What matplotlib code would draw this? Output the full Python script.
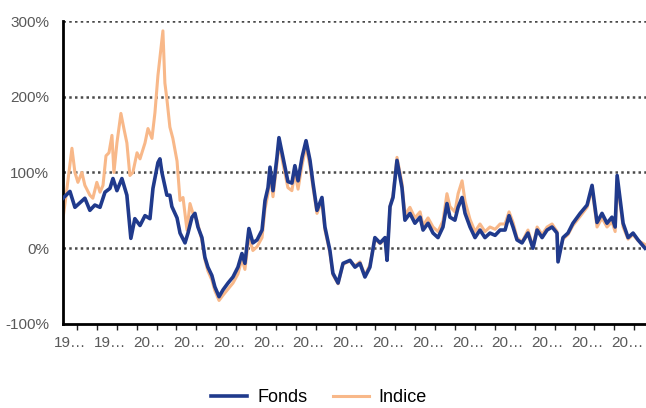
"""Fonds vs Indice cumulative performance chart."""
import matplotlib
matplotlib.use("Agg")
import matplotlib.pyplot as plt
from matplotlib.ticker import FixedLocator, PercentFormatter

plt.rcParams["font.family"] = ["Liberation Sans", "DejaVu Sans"]
plt.rcParams["axes.unicode_minus"] = False

# decimal years and cumulative performance (%)
fonds_years = [
    1995.30, 1995.65, 1995.90, 1996.15, 1996.40, 1996.65, 1996.90, 1997.16,
    1997.41, 1997.66, 1997.81, 1998.01, 1998.26, 1998.51, 1998.71, 1998.91,
    1999.17, 1999.42, 1999.67, 1999.82, 2000.07, 2000.17, 2000.27, 2000.52,
    2000.67, 2000.77, 2001.03, 2001.18, 2001.43, 2001.58, 2001.78, 2001.93,
    2002.08, 2002.28, 2002.43, 2002.58, 2002.78, 2002.93, 2003.14, 2003.34,
    2003.59, 2003.84, 2004.09, 2004.29, 2004.44, 2004.64, 2004.84, 2005.05,
    2005.30, 2005.45, 2005.60, 2005.70, 2005.85, 2006.05, 2006.15, 2006.35,
    2006.60, 2006.80, 2006.95, 2007.11, 2007.31, 2007.51, 2007.71, 2007.86,
    2008.06, 2008.31, 2008.46, 2008.71, 2008.86, 2009.12, 2009.37, 2009.72,
    2009.97, 2010.22, 2010.47, 2010.72, 2010.97, 2011.23, 2011.48, 2011.58,
    2011.73, 2011.88, 2012.08, 2012.33, 2012.48, 2012.73, 2012.98, 2013.24,
    2013.39, 2013.64, 2013.89, 2014.14, 2014.39, 2014.59, 2014.74, 2014.99,
    2015.15, 2015.35, 2015.50, 2015.75, 2016.00, 2016.25, 2016.50, 2016.75,
    2017.01, 2017.26, 2017.51, 2017.71, 2017.91, 2018.11, 2018.36, 2018.66,
    2018.91, 2019.12, 2019.37, 2019.62, 2019.87, 2020.12, 2020.17, 2020.42,
    2020.67, 2020.92, 2021.28, 2021.63, 2021.88, 2022.13, 2022.38, 2022.63,
    2022.88, 2023.04, 2023.14, 2023.44, 2023.69, 2023.94, 2024.19, 2024.54,
]
fonds = [
    66, 75, 54, 60, 66, 50, 57, 54,
    74, 79, 92, 76, 92, 70, 13, 39,
    30, 43, 39, 79, 113, 118, 100, 70,
    70, 55, 40, 20, 7, 20, 41, 46,
    28, 14, -12, -25, -36, -51, -64, -55,
    -46, -38, -25, -7, -20, 26, 7, 11,
    24, 63, 80, 107, 76, 120, 146, 120,
    88, 86, 109, 89, 120, 142, 116, 86,
    50, 67, 28, -3, -33, -46, -20, -16,
    -25, -20, -38, -25, 14, 7, 14, -16,
    55, 67, 116, 80, 37, 46, 33, 41,
    24, 33, 20, 14, 28, 59, 41, 37,
    54, 67, 46, 28, 14, 24, 14, 20,
    17, 24, 24, 43, 28, 11, 7, 20,
    0, 24, 14, 24, 28, 20, -18, 14,
    20, 33, 46, 57, 83, 34, 46, 33,
    41, 28, 96, 33, 14, 20, 11, 0,
]

indice_years = [
    1995.30, 1995.50, 1995.75, 1995.90, 1996.05, 1996.25, 1996.40, 1996.65,
    1996.80, 1997.00, 1997.16, 1997.31, 1997.46, 1997.61, 1997.76, 1997.86,
    1998.01, 1998.21, 1998.36, 1998.51, 1998.66, 1998.81, 1999.02, 1999.17,
    1999.42, 1999.57, 1999.77, 1999.92, 2000.07, 2000.22, 2000.32, 2000.42,
    2000.52, 2000.67, 2000.82, 2001.03, 2001.18, 2001.33, 2001.53, 2001.68,
    2001.83, 2002.03, 2002.28, 2002.43, 2002.58, 2002.78, 2002.93, 2003.14,
    2003.34, 2003.59, 2003.84, 2004.09, 2004.29, 2004.44, 2004.64, 2004.84,
    2005.05, 2005.30, 2005.45, 2005.60, 2005.70, 2005.85, 2006.05, 2006.15,
    2006.35, 2006.60, 2006.80, 2006.95, 2007.11, 2007.31, 2007.51, 2007.71,
    2007.86, 2008.06, 2008.31, 2008.46, 2008.71, 2008.86, 2009.12, 2009.37,
    2009.72, 2009.97, 2010.22, 2010.47, 2010.72, 2010.97, 2011.23, 2011.48,
    2011.58, 2011.73, 2011.88, 2012.08, 2012.33, 2012.48, 2012.73, 2012.98,
    2013.24, 2013.39, 2013.64, 2013.89, 2014.14, 2014.39, 2014.59, 2014.74,
    2014.99, 2015.15, 2015.35, 2015.50, 2015.75, 2016.00, 2016.25, 2016.50,
    2016.75, 2017.01, 2017.26, 2017.51, 2017.71, 2017.91, 2018.11, 2018.36,
    2018.66, 2018.91, 2019.12, 2019.37, 2019.62, 2019.87, 2020.12, 2020.17,
    2020.42, 2020.67, 2020.92, 2021.28, 2021.63, 2021.88, 2022.13, 2022.38,
    2022.63, 2022.88, 2023.04, 2023.14, 2023.44, 2023.69, 2023.94, 2024.19,
    2024.54,
]
indice = [
    39, 79, 132, 100, 87, 100, 83, 70,
    66, 87, 74, 83, 122, 126, 149, 100,
    139, 178, 158, 139, 96, 100, 126, 118,
    139, 158, 145, 179, 228, 263, 287, 218,
    197, 160, 145, 115, 63, 67, 24, 59,
    46, 37, 10, -15, -30, -42, -56, -69,
    -62, -54, -46, -34, -14, -28, 15, -3,
    2, 14, 52, 72, 100, 68, 112, 140,
    112, 80, 76, 100, 78, 110, 135, 108,
    80, 46, 62, 24, -6, -35, -47, -21,
    -17, -23, -18, -36, -22, 12, 6, 12,
    -14, 55, 70, 120, 86, 44, 54, 40,
    48, 30, 40, 28, 22, 36, 72, 55,
    48, 72, 89, 62, 38, 22, 32, 22,
    28, 25, 32, 32, 48, 34, 14, 8,
    24, 2, 28, 18, 28, 32, 22, -15,
    12, 18, 30, 42, 54, 78, 28, 40,
    28, 35, 22, 88, 28, 12, 18, 10,
    5,
]

label_years = list(range(1996, 2025, 2))
tick_labels = [str(y)[:2] + "\u2026" for y in label_years]
y_ticks = [-100, 0, 100, 200, 300]

fig = plt.figure(figsize=(6.46, 4.08), dpi=100)
ax = fig.add_axes([0.0975, 0.206, 0.9025, 0.7425])

ax.plot(indice_years, indice, color="#f8b889", lw=2.2, label="Indice", zorder=2)
ax.plot(fonds_years, fonds, color="#203a8c", lw=2.6, label="Fonds", zorder=3)

ax.set_xlim(1995.30, 2024.59)
ax.set_ylim(-100, 300)

# dotted grid lines
for v in y_ticks[1:]:
    ax.axhline(v, color="#4a4a4a", lw=1.8, ls=(0, (1, 1.3)), zorder=1)

ax.yaxis.set_major_locator(FixedLocator(y_ticks))
ax.yaxis.set_major_formatter(PercentFormatter(decimals=0))
ax.tick_params(axis="y", length=0, pad=10, labelsize=11, labelcolor="#595959")

# year tick marks, with truncated labels placed between
ax.xaxis.set_minor_locator(FixedLocator(list(range(1996, 2025))))
ax.set_xticks([y - 0.35 for y in label_years])
ax.set_xticklabels(tick_labels)
ax.tick_params(axis="x", which="major", length=0, pad=9, labelsize=11,
               labelcolor="#595959")
ax.tick_params(axis="x", which="minor", length=4, width=1, color="#222222")

for side in ["top", "right"]:
    ax.spines[side].set_visible(False)
for side in ["left", "bottom"]:
    ax.spines[side].set_linewidth(2)
    ax.spines[side].set_color("black")

handles, labels = ax.get_legend_handles_labels()
fig.legend(handles[::-1], labels[::-1], loc="center",
           bbox_to_anchor=(0.494, 0.026), ncol=2, frameon=False,
           fontsize=13, handlelength=2.0, columnspacing=1.4,
           handletextpad=0.55)

fig.savefig("out.png", dpi=100)
